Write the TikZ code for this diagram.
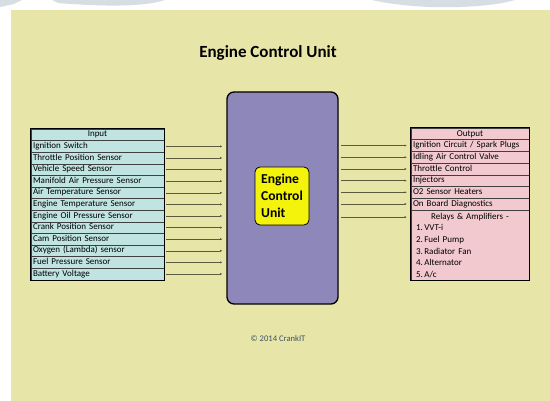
\documentclass[tikz,border=0pt]{standalone}
\usepackage{fontspec}
\setmainfont{Carlito}
\usetikzlibrary{arrows.meta}
\definecolor{bgyellow}{HTML}{E8E5A8}
\definecolor{topgrey}{HTML}{D6DEE3}
\definecolor{incol}{HTML}{BFE4E2}
\definecolor{outcol}{HTML}{F2C9CE}
\definecolor{ecucol}{HTML}{8E87BA}
\definecolor{corecol}{HTML}{F3F30C}
\definecolor{arrcol}{HTML}{5C5A3E}
\definecolor{copycol}{HTML}{3F5164}
\tikzset{
  row/.style={draw=black!75, line width=0.4pt, minimum height=11.6pt, inner xsep=2pt, inner ysep=0pt,
    text height=6.6pt, text depth=2.2pt, font=\fontsize{9}{10}\selectfont, align=left},
  inrow/.style={row, fill=incol, text width=129pt},
  outrow/.style={row, fill=outcol, text width=114pt, minimum height=11.7pt},
  sig/.style={draw=arrcol, line width=0.5pt, -{Latex[length=2.2pt,width=2.2pt]}},
}
\begin{document}
\begin{tikzpicture}[x=1pt,y=-1pt]
\useasboundingbox (0,0) rectangle (550,401);
% page
\fill[white] (0,0) rectangle (550,401);
\fill[topgrey] (0,0) -- (22,0) -- (14,4) -- (0,7) -- cycle;
\fill[topgrey] (52,0) -- (165,0) .. controls (150,5) and (120,8) .. (58,3) -- cycle;
\fill[topgrey] (372,0) -- (515,0) .. controls (495,6) and (460,8) .. (430,7) .. controls (405,6) and (385,3) .. (372,0) -- cycle;
\fill[bgyellow] (11,10) rectangle (550,401);

\node[font=\bfseries\fontsize{17}{20}\selectfont] (title) at (268,53) {Engine Control Unit};

% ECU block
\node[draw=black, line width=1.3pt, fill=ecucol, rounded corners=7pt,
  minimum width=111pt, minimum height=212pt] (ecu) at (282.5,198) {};
\node[draw=black, line width=0.8pt, fill=corecol, rounded corners=5pt,
  minimum width=54pt, minimum height=58pt, inner sep=0pt, align=left,
  font=\bfseries\fontsize{13.6}{17}\selectfont] (core) at (282,196) {Engine\\Control\\Unit};

% inputs
\node[inrow, align=center] (inhead) at (97.5,134.8) {Input};
\foreach \lbl [count=\i] in {Ignition Switch, Throttle Position Sensor, Vehicle Speed Sensor,
  Manifold Air Pressure Sensor, Air Temperature Sensor, Engine Temperature Sensor,
  Engine Oil Pressure Sensor, Crank Position Sensor, Cam Position Sensor,
  Oxygen (Lambda) sensor, Fuel Pressure Sensor, Battery Voltage}
{
  \node[inrow] (in\i) at (97.5,{129+11.6*(\i+0.5)}) {\lbl};
  \draw[sig, shorten <=2pt, shorten >=4pt] (in\i.east) -- (in\i.east -| ecu.west);
}
\draw[line width=0.9pt] (inhead.north west) rectangle (in12.south east);

% outputs
\node[outrow, align=center] (outhead) at (470,133.85) {Output};
\foreach \lbl [count=\i] in {Ignition Circuit / Spark Plugs, Idling Air Control Valve,
  Throttle Control, Injectors, O2 Sensor Heaters, On Board Diagnostics}
{
  \node[outrow] (out\i) at (470,{128+11.7*(\i+0.5)}) {\lbl};
  \draw[sig, shorten <=2pt, shorten >=4pt] (out\i.west -| ecu.east) -- (out\i.west);
}
\node[outrow, anchor=north, minimum height=70pt, inner ysep=1pt, text height=, text depth=,
  font=\fontsize{9}{11.6}\selectfont] (out7) at (out6.south)
  {\makebox[\linewidth]{Relays \& Amplifiers -}\\
   \hspace*{3pt}1.\,VVT-i\\
   \hspace*{3pt}2.\,Fuel Pump\\
   \hspace*{3pt}3.\,Radiator Fan\\
   \hspace*{3pt}4.\,Alternator\\
   \hspace*{3pt}5.\,A/c};
\coordinate (relay) at ([yshift=-7pt]out7.north west);
\draw[sig, shorten <=2pt, shorten >=4pt] (relay -| ecu.east) -- (relay);
\draw[line width=0.9pt] (outhead.north west) rectangle (out7.south east);

\node[text=copycol, font=\fontsize{8.6}{10}\selectfont] (copy) at (278,339) {\copyright{} 2014 CrankIT};
\end{tikzpicture}
\end{document}
